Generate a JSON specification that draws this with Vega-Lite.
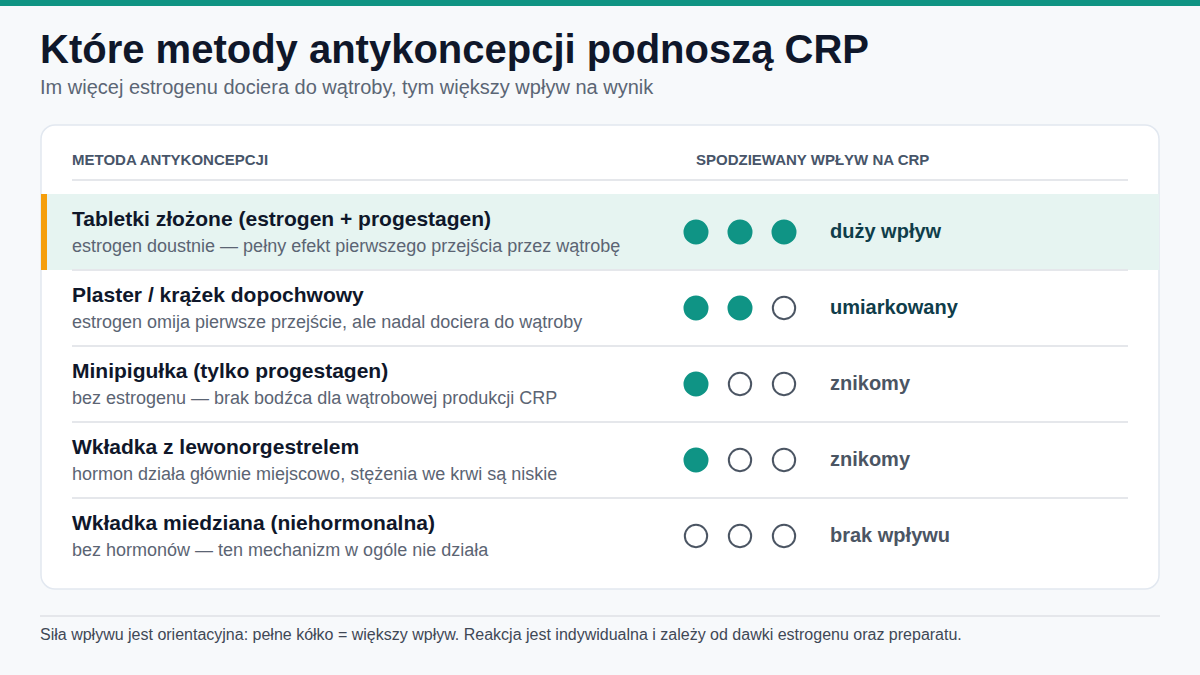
{
  "$schema": "https://vega.github.io/schema/vega-lite/v6.json",
  "width": 1200,
  "height": 675,
  "autosize": {"type": "fit", "contains": "padding"},
  "padding": 0,
  "background": "#f7f9fb",
  "config": {
    "view": {"stroke": null},
    "font": "Liberation Sans",
    "text": {"font": "Liberation Sans"}
  },
  "datasets": {
    "methods": [
      {"method": "Tabletki złożone (estrogen + progestagen)", "note": "estrogen doustnie — pełny efekt pierwszego przejścia przez wątrobę", "level": 3, "label": "duży wpływ"},
      {"method": "Plaster / krążek dopochwowy", "note": "estrogen omija pierwsze przejście, ale nadal dociera do wątroby", "level": 2, "label": "umiarkowany"},
      {"method": "Minipigułka (tylko progestagen)", "note": "bez estrogenu — brak bodźca dla wątrobowej produkcji CRP", "level": 1, "label": "znikomy"},
      {"method": "Wkładka z lewonorgestrelem", "note": "hormon działa głównie miejscowo, stężenia we krwi są niskie", "level": 1, "label": "znikomy"},
      {"method": "Wkładka miedziana (niehormonalna)", "note": "bez hormonów — ten mechanizm w ogóle nie działa", "level": 0, "label": "brak wpływu"}
    ],
    "dots": [
      {"method": "Tabletki złożone (estrogen + progestagen)", "dot": 1, "filled": true},
      {"method": "Tabletki złożone (estrogen + progestagen)", "dot": 2, "filled": true},
      {"method": "Tabletki złożone (estrogen + progestagen)", "dot": 3, "filled": true},
      {"method": "Plaster / krążek dopochwowy", "dot": 1, "filled": true},
      {"method": "Plaster / krążek dopochwowy", "dot": 2, "filled": true},
      {"method": "Plaster / krążek dopochwowy", "dot": 3, "filled": false},
      {"method": "Minipigułka (tylko progestagen)", "dot": 1, "filled": true},
      {"method": "Minipigułka (tylko progestagen)", "dot": 2, "filled": false},
      {"method": "Minipigułka (tylko progestagen)", "dot": 3, "filled": false},
      {"method": "Wkładka z lewonorgestrelem", "dot": 1, "filled": true},
      {"method": "Wkładka z lewonorgestrelem", "dot": 2, "filled": false},
      {"method": "Wkładka z lewonorgestrelem", "dot": 3, "filled": false},
      {"method": "Wkładka miedziana (niehormonalna)", "dot": 1, "filled": false},
      {"method": "Wkładka miedziana (niehormonalna)", "dot": 2, "filled": false},
      {"method": "Wkładka miedziana (niehormonalna)", "dot": 3, "filled": false}
    ]
  },
  "layer": [
    {
      "data": {"values": [{}]},
      "mark": {"type": "rect", "color": "#0f9483"},
      "encoding": {"x": {"value": 0}, "x2": {"value": 1200}, "y": {"value": 0}, "y2": {"value": 6}}
    },
    {
      "data": {"values": [{}]},
      "mark": {"type": "rect", "fill": "#ffffff", "stroke": "#e2e8f0", "strokeWidth": 1.5, "cornerRadius": 14},
      "encoding": {"x": {"value": 41}, "x2": {"value": 1159}, "y": {"value": 125}, "y2": {"value": 589}}
    },
    {
      "data": {"name": "methods"},
      "transform": [{"filter": "datum.level == 3"}],
      "mark": {"type": "rect", "fill": "#e6f4f1"},
      "encoding": {
        "y": {"field": "method", "type": "nominal", "axis": null,
          "scale": {"type": "band", "range": [194, 574], "paddingInner": 0, "paddingOuter": 0,
            "domain": ["Tabletki złożone (estrogen + progestagen)", "Plaster / krążek dopochwowy", "Minipigułka (tylko progestagen)", "Wkładka z lewonorgestrelem", "Wkładka miedziana (niehormonalna)"]}},
        "x": {"value": 47}, "x2": {"value": 1159}
      }
    },
    {
      "data": {"name": "methods"},
      "transform": [{"filter": "datum.level == 3"}],
      "mark": {"type": "rect", "fill": "#f59e0b"},
      "encoding": {
        "y": {"field": "method", "type": "nominal", "axis": null},
        "x": {"value": 41}, "x2": {"value": 47}
      }
    },
    {
      "data": {"name": "methods"},
      "transform": [{"filter": "datum.level != 0"}],
      "mark": {"type": "rule", "stroke": "#e5e7eb", "strokeWidth": 2},
      "encoding": {
        "y": {"field": "method", "type": "nominal", "axis": null, "bandPosition": 1},
        "x": {"value": 72}, "x2": {"value": 1128}
      }
    },
    {
      "data": {"values": [{}]},
      "mark": {"type": "rule", "stroke": "#e5e7eb", "strokeWidth": 2},
      "encoding": {"x": {"value": 72}, "x2": {"value": 1128}, "y": {"value": 180}}
    },
    {
      "data": {"values": [{}]},
      "mark": {"type": "rule", "stroke": "#e5e7eb", "strokeWidth": 2},
      "encoding": {"x": {"value": 40}, "x2": {"value": 1160}, "y": {"value": 616}}
    },
    {
      "data": {"values": [{"t": "Które metody antykoncepcji podnoszą CRP"}]},
      "mark": {"type": "text", "align": "left", "baseline": "alphabetic", "fontSize": 40, "fontWeight": "bold", "color": "#0f172a"},
      "encoding": {"text": {"field": "t"}, "x": {"value": 40}, "y": {"value": 63}}
    },
    {
      "data": {"values": [{"t": "Im więcej estrogenu dociera do wątroby, tym większy wpływ na wynik"}]},
      "mark": {"type": "text", "align": "left", "baseline": "middle", "fontSize": 20, "color": "#5b6675"},
      "encoding": {"text": {"field": "t"}, "x": {"value": 40}, "y": {"value": 88}}
    },
    {
      "data": {"values": [{"t": "METODA ANTYKONCEPCJI", "x": "a"}]},
      "mark": {"type": "text", "align": "left", "baseline": "middle", "fontSize": 15, "fontWeight": "bold", "color": "#475569"},
      "encoding": {"text": {"field": "t"}, "x": {"value": 72}, "y": {"value": 160}}
    },
    {
      "data": {"values": [{"t": "SPODZIEWANY WPŁYW NA CRP"}]},
      "mark": {"type": "text", "align": "left", "baseline": "middle", "fontSize": 15, "fontWeight": "bold", "color": "#475569"},
      "encoding": {"text": {"field": "t"}, "x": {"value": 696}, "y": {"value": 160}}
    },
    {
      "data": {"values": [{"t": "Siła wpływu jest orientacyjna: pełne kółko = większy wpływ. Reakcja jest indywidualna i zależy od dawki estrogenu oraz preparatu."}]},
      "mark": {"type": "text", "align": "left", "baseline": "middle", "fontSize": 16, "color": "#3f4856"},
      "encoding": {"text": {"field": "t"}, "x": {"value": 40}, "y": {"value": 635}}
    },
    {
      "data": {"name": "methods"},
      "mark": {"type": "text", "align": "left", "baseline": "middle", "fontSize": 21, "fontWeight": "bold", "color": "#0f172a", "dy": -12},
      "encoding": {"text": {"field": "method"}, "y": {"field": "method", "type": "nominal", "axis": null, "bandPosition": 0.5}, "x": {"value": 72}}
    },
    {
      "data": {"name": "methods"},
      "mark": {"type": "text", "align": "left", "baseline": "middle", "fontSize": 18, "color": "#5b6473", "dy": 15},
      "encoding": {"text": {"field": "note"}, "y": {"field": "method", "type": "nominal", "axis": null, "bandPosition": 0.5}, "x": {"value": 72}}
    },
    {
      "data": {"name": "methods"},
      "mark": {"type": "text", "align": "left", "baseline": "middle", "fontSize": 20, "fontWeight": "bold"},
      "encoding": {
        "text": {"field": "label"},
        "y": {"field": "method", "type": "nominal", "axis": null, "bandPosition": 0.5},
        "x": {"value": 830},
        "color": {"condition": {"test": "datum.level >= 2", "value": "#0f3d4a"}, "value": "#4b5563"}
      }
    },
    {
      "data": {"name": "dots"},
      "mark": {"type": "point", "shape": "circle", "filled": true, "opacity": 1, "strokeWidth": 2},
      "encoding": {
        "y": {"field": "method", "type": "nominal", "axis": null, "bandPosition": 0.5},
        "x": {"field": "dot", "type": "quantitative", "axis": null, "scale": {"domain": [0, 3], "range": [652, 784], "zero": false, "nice": false}},
        "fill": {"condition": {"test": "datum.filled", "value": "#0f9485"}, "value": "#ffffff"},
        "stroke": {"condition": {"test": "datum.filled", "value": "#0f9485"}, "value": "#4b5563"},
        "size": {"condition": {"test": "datum.filled", "value": 530}, "value": 500}
      }
    }
  ]
}
